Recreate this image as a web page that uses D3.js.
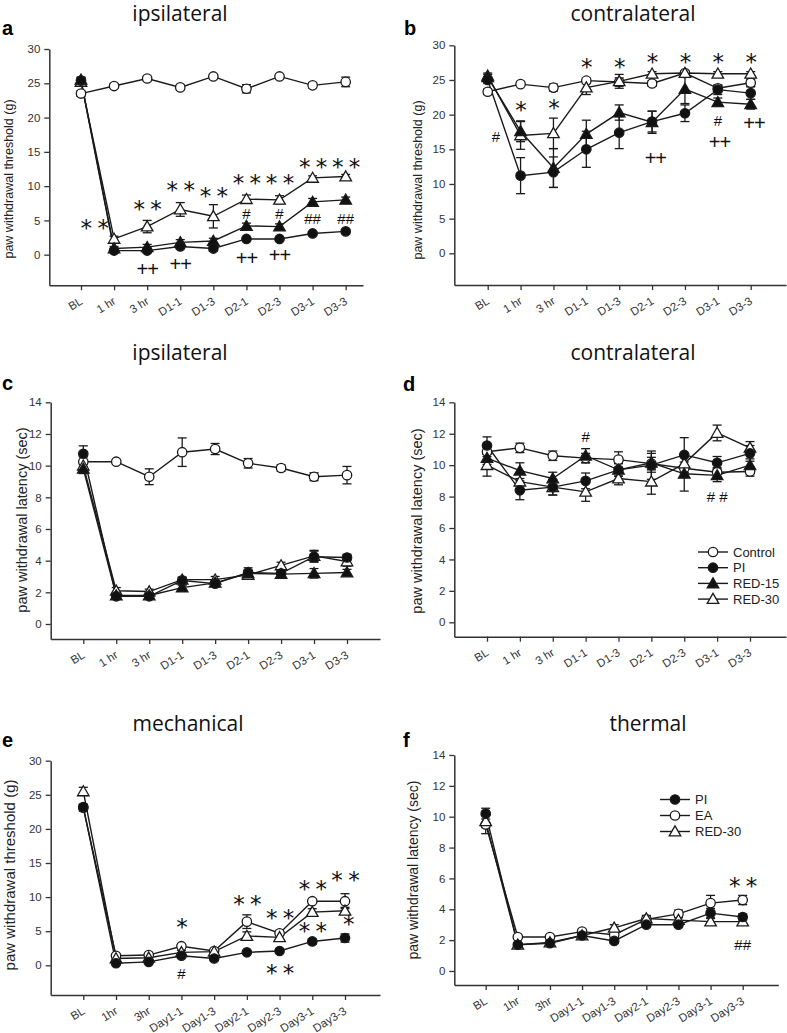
<!DOCTYPE html>
<html>
<head>
<meta charset="utf-8">
<script src="https://cdn.jsdelivr.net/npm/d3@7.9.0/dist/d3.min.js"></script>
<style>
  body { margin: 0; background: #fff; }
  svg { display: block; }
</style>
</head>
<body>
<svg id="fig" width="787" height="1033"></svg>
<script>
// category labels
const hrCats = ["BL", "1 hr", "3 hr", "D1-1", "D1-3", "D2-1", "D2-3", "D3-1", "D3-3"];
const dayCats = ["BL", "1hr", "3hr", "Day1-1", "Day1-3", "Day2-1", "Day2-3", "Day3-1", "Day3-3"];

// a - mechanical, ipsilateral (g)
const ctrlA = [23.5, 24.6, 25.7, 24.4, 26.0, 24.2, 26.0, 24.7, 25.2];
const ctrlAErr = [0.4, 0.3, 0.3, 0.3, 0.3, 0.6, 0.3, 0.4, 0.7];
const piA = [25.4, 0.6, 0.6, 1.2, 0.9, 2.3, 2.3, 3.1, 3.4];
const piAErr = [0.4, 0.2, 0.3, 0.3, 0.3, 0.2, 0.2, 0.2, 0.2];
const red15A = [25.5, 0.9, 1.1, 1.8, 2.0, 4.2, 4.1, 7.7, 8.0];
const red15AErr = [0.4, 0.3, 0.4, 0.4, 0.4, 0.4, 0.4, 0.5, 0.4];
const red30A = [25.2, 2.3, 4.1, 6.6, 5.6, 8.1, 8.0, 11.2, 11.4];
const red30AErr = [0.4, 0.4, 0.9, 1.0, 1.7, 0.6, 0.6, 0.3, 0.3];

// b - mechanical, contralateral (g)
const ctrlB = [23.3, 24.4, 23.9, 24.9, 24.7, 24.5, 26.0, 23.8, 24.6];
const ctrlBErr = [0.4, 0.3, 0.5, 0.4, 0.6, 0.4, 0.3, 0.4, 0.5];
const piB = [25.0, 11.2, 11.7, 15.0, 17.4, 19.0, 20.2, 23.6, 23.1];
const piBErr = [0.5, 2.6, 2.2, 2.6, 2.3, 1.5, 1.2, 0.7, 0.9];
const red15B = [25.4, 17.6, 12.3, 17.2, 20.3, 18.9, 23.7, 21.8, 21.5];
const red15BErr = [0.4, 1.5, 2.8, 2.0, 1.1, 1.6, 2.1, 0.6, 0.7];
const red30B = [25.6, 17.0, 17.3, 23.9, 24.8, 25.9, 26.0, 25.9, 25.9];
const red30BErr = [0.4, 2.0, 2.2, 1.0, 1.0, 0.3, 0.3, 0.3, 0.3];

// c - thermal, ipsilateral (sec)
const ctrlC = [10.25, 10.25, 9.3, 10.85, 11.05, 10.15, 9.85, 9.3, 9.4];
const ctrlCErr = [0.3, 0.1, 0.5, 0.9, 0.35, 0.3, 0.2, 0.25, 0.55];
const piC = [10.75, 1.75, 1.75, 2.75, 2.55, 3.25, 3.2, 4.25, 4.2];
const piCErr = [0.5, 0.2, 0.15, 0.2, 0.15, 0.3, 0.2, 0.35, 0.2];
const red15C = [9.8, 1.8, 1.8, 2.3, 2.6, 3.2, 3.15, 3.2, 3.25];
const red15CErr = [0.3, 0.2, 0.15, 0.15, 0.15, 0.2, 0.2, 0.3, 0.2];
const red30C = [10.0, 2.1, 2.05, 2.8, 2.8, 3.1, 3.7, 4.3, 3.95];
const red30CErr = [0.3, 0.2, 0.15, 0.15, 0.2, 0.2, 0.2, 0.35, 0.3];

// d - thermal, contralateral (sec)
const ctrlD = [10.85, 11.1, 10.6, 10.45, 10.35, 10.1, 9.8, 9.55, 9.6];
const ctrlDErr = [0.3, 0.3, 0.3, 0.3, 0.5, 0.4, 0.4, 0.3, 0.3];
const piD = [11.25, 8.4, 8.6, 9.0, 9.7, 10.0, 10.65, 10.15, 10.75];
const piDErr = [0.55, 0.6, 0.5, 0.5, 0.4, 0.9, 1.1, 0.4, 0.5];
const red15D = [10.45, 9.65, 9.15, 10.6, 9.7, 10.15, 9.45, 9.35, 10.0];
const red15DErr = [0.4, 0.5, 0.4, 0.45, 0.4, 0.6, 1.1, 0.4, 0.4];
const red30D = [10.0, 8.95, 8.6, 8.3, 9.15, 8.95, 10.1, 12.05, 11.1];
const red30DErr = [0.7, 0.5, 0.5, 0.6, 0.4, 0.8, 0.6, 0.5, 0.4];

// e - mechanical (g)
const eaE = [23.1, 1.4, 1.5, 2.8, 2.1, 6.4, 4.7, 9.4, 9.4];
const eaEErr = [0.5, 0.2, 0.2, 0.3, 0.2, 1.0, 0.3, 0.3, 1.1];
const piE = [23.2, 0.3, 0.5, 1.4, 1.0, 1.9, 2.1, 3.5, 4.0];
const piEErr = [0.4, 0.2, 0.2, 0.2, 0.2, 0.2, 0.2, 0.4, 0.6];
const red30E = [25.5, 1.0, 1.1, 1.9, 2.0, 4.3, 4.1, 7.8, 8.0];
const red30EErr = [0.6, 0.2, 0.2, 0.3, 0.3, 0.6, 0.3, 0.5, 0.5];

// f - thermal (sec)
const piF = [10.2, 1.7, 1.8, 2.3, 1.95, 3.0, 3.0, 3.75, 3.5];
const piFErr = [0.35, 0.1, 0.1, 0.15, 0.15, 0.15, 0.15, 0.3, 0.2];
const eaF = [9.5, 2.2, 2.2, 2.55, 2.35, 3.35, 3.7, 4.4, 4.6];
const eaFErr = [0.6, 0.1, 0.1, 0.15, 0.2, 0.2, 0.25, 0.5, 0.3];
const red30F = [9.7, 1.7, 1.85, 2.3, 2.8, 3.4, 3.3, 3.2, 3.2];
const red30FErr = [0.4, 0.1, 0.1, 0.15, 0.2, 0.2, 0.2, 0.2, 0.15];

// significance marks: [text, category index, value]
const notesA = [["* *", 0.4, 4.6], ["* *", 2, 7.4], ["* *", 3, 10.2], ["* *", 4, 9.2],
  ["* *", 5, 11.2], ["* *", 6, 11.1], ["* *", 7, 13.5], ["* *", 8, 13.5],
  ["#", 5, 6.0], ["#", 6, 6.0], ["##", 7, 5.2], ["##", 8, 5.2],
  ["++", 2, -2.0], ["++", 3, -1.3], ["++", 5, -0.5], ["++", 6, -0.1]];
const notesB = [["*", 1, 21.4], ["*", 2, 21.6], ["*", 3, 27.6], ["*", 4, 27.6],
  ["*", 5, 28.3], ["*", 6, 28.3], ["*", 7, 28.3], ["*", 8, 28.3],
  ["#", 0.25, 16.8], ["#", 7, 19.1], ["++", 5.1, 13.8], ["++", 7.05, 16.1], ["++", 8.1, 18.8]];
const notesC = [];
const notesD = [["#", 3, 11.8], ["# #", 7, 8.0]];
const notesE = [["*", 3, 6.4], ["* *", 5, 9.7], ["* *", 6, 7.6], ["* *", 7, 11.9],
  ["* *", 8, 13.2], ["* *", 7, 5.7], ["*", 8.1, 6.7], ["* *", 6, -0.45], ["#", 3, -1.2]];
const notesF = [["* *", 8, 5.8], ["##", 8, 1.7]];

const openCircle = { shape: "circle", fill: "#fff" };
const filledCircle = { shape: "circle", fill: "#111" };
const filledTri = { shape: "triangle", fill: "#111" };
const openTri = { shape: "triangle", fill: "#fff" };

const panels = [
  { letter: "a", title: "ipsilateral", ylabel: "paw withdrawal threshold (g)", cats: hrCats,
    ymax: 30, ystep: 5, box: { left: 49.3, x0: 81, x8: 345.7, right: 363, top: 49, y0: 254.7, bottom: 285.3 },
    titleX: 180, titleY: 21, letterX: 2, letterY: 35, labelX: 13, labelY: 179, labelSize: 12.5,
    series: [
      { name: "Control", vals: ctrlA, errs: ctrlAErr, ...openCircle },
      { name: "RED-30", vals: red30A, errs: red30AErr, ...openTri },
      { name: "RED-15", vals: red15A, errs: red15AErr, ...filledTri },
      { name: "PI", vals: piA, errs: piAErr, ...filledCircle }],
    notes: notesA },
  { letter: "b", title: "contralateral", ylabel: "paw withdrawal threshold (g)", cats: hrCats,
    ymax: 30, ystep: 5, box: { left: 454.3, x0: 487.7, x8: 750.7, right: 786, top: 45.3, y0: 253.3, bottom: 285 },
    titleX: 633, titleY: 21, letterX: 404, letterY: 35, labelX: 421.5, labelY: 180, labelSize: 12.5,
    series: [
      { name: "Control", vals: ctrlB, errs: ctrlBErr, ...openCircle },
      { name: "RED-30", vals: red30B, errs: red30BErr, ...openTri },
      { name: "RED-15", vals: red15B, errs: red15BErr, ...filledTri },
      { name: "PI", vals: piB, errs: piBErr, ...filledCircle }],
    notes: notesB },
  { letter: "c", title: "ipsilateral", ylabel: "paw withdrawal latency (sec)", cats: hrCats,
    ymax: 14, ystep: 2, box: { left: 50.7, x0: 83.3, x8: 347, right: 380, top: 402.3, y0: 624, bottom: 639 },
    titleX: 180, titleY: 360, letterX: 2, letterY: 390, labelX: 26.5, labelY: 520, labelSize: 14.5,
    series: [
      { name: "Control", vals: ctrlC, errs: ctrlCErr, ...openCircle },
      { name: "RED-30", vals: red30C, errs: red30CErr, ...openTri },
      { name: "RED-15", vals: red15C, errs: red15CErr, ...filledTri },
      { name: "PI", vals: piC, errs: piCErr, ...filledCircle }],
    notes: notesC },
  { letter: "d", title: "contralateral", ylabel: "paw withdrawal latency (sec)", cats: hrCats,
    ymax: 14, ystep: 2, box: { left: 454.3, x0: 487, x8: 750, right: 786, top: 402.3, y0: 622.3, bottom: 636.7 },
    titleX: 633, titleY: 360, letterX: 403, letterY: 391, labelX: 421.5, labelY: 521, labelSize: 14.5,
    series: [
      { name: "Control", vals: ctrlD, errs: ctrlDErr, ...openCircle },
      { name: "RED-30", vals: red30D, errs: red30DErr, ...openTri },
      { name: "RED-15", vals: red15D, errs: red15DErr, ...filledTri },
      { name: "PI", vals: piD, errs: piDErr, ...filledCircle }],
    notes: notesD,
    legend: { x: 713, y: 552, gap: 15.7, order: ["Control", "PI", "RED-15", "RED-30"] } },
  { letter: "e", title: "mechanical", ylabel: "paw withdrawal threshold (g)", cats: dayCats,
    ymax: 30, ystep: 5, box: { left: 50.7, x0: 83.3, x8: 345, right: 380, top: 760.7, y0: 965.3, bottom: 995 },
    titleX: 188, titleY: 731, letterX: 2, letterY: 747, labelX: 15, labelY: 875, labelSize: 15,
    series: [
      { name: "EA", vals: eaE, errs: eaEErr, ...openCircle },
      { name: "RED-30", vals: red30E, errs: red30EErr, ...openTri },
      { name: "PI", vals: piE, errs: piEErr, ...filledCircle }],
    notes: notesE },
  { letter: "f", title: "thermal", ylabel: "paw withdrawal latency (sec)", cats: dayCats,
    ymax: 14, ystep: 2, box: { left: 454.3, x0: 485.7, x8: 742.7, right: 778.3, top: 755, y0: 971, bottom: 985 },
    titleX: 648, titleY: 731, letterX: 403, letterY: 747, labelX: 418, labelY: 870, labelSize: 14,
    series: [
      { name: "EA", vals: eaF, errs: eaFErr, ...openCircle },
      { name: "RED-30", vals: red30F, errs: red30FErr, ...openTri },
      { name: "PI", vals: piF, errs: piFErr, ...filledCircle }],
    notes: notesF,
    legend: { x: 675, y: 799.5, gap: 16, order: ["PI", "EA", "RED-30"] } }
];

const ink = "#1a1a1a";
const sans = "'Liberation Sans', Arial, sans-serif";
const triangle = d3.symbol().type(d3.symbolTriangle).size(58);

// glyph sizes for the significance marks, dy = centre of glyph above baseline (em)
const markFont = {
  "*": { size: 23, family: "'DejaVu Sans', sans-serif", dy: 0.56, ls: -1 },
  "#": { size: 15, family: sans, dy: 0.36, ls: 0 },
  "+": { size: 20, family: sans, dy: 0.355, ls: -1 }
};

const svg = d3.select("#fig");
svg.append("rect").attr("width", 787).attr("height", 1033).attr("fill", "#fff");

function drawMarker(g, s, cx, cy) {
  if (s.shape === "circle") {
    g.append("circle").attr("cx", cx).attr("cy", cy).attr("r", 4.7)
      .attr("fill", s.fill).attr("stroke", ink).attr("stroke-width", 1.3);
  } else {
    g.append("path").attr("d", triangle).attr("transform", `translate(${cx},${cy + 1})`)
      .attr("fill", s.fill).attr("stroke", ink).attr("stroke-width", 1.3);
  }
}

panels.forEach(p => {
  const b = p.box;
  const g = svg.append("g");

  const x = d3.scaleLinear().domain([0, 8]).range([b.x0, b.x8]);
  const y = d3.scaleLinear().domain([0, p.ymax]).range([b.y0, b.top]);
  const xAxisScale = x.copy().domain([x.invert(b.left), x.invert(b.right)]).range([b.left, b.right]);
  const yAxisScale = y.copy().domain([y.invert(b.bottom), p.ymax]).range([b.bottom, b.top]);

  // axes
  const yAx = g.append("g").attr("transform", `translate(${b.left},0)`)
    .call(d3.axisLeft(yAxisScale).tickValues(d3.range(0, p.ymax + 0.01, p.ystep))
      .tickSize(5).tickSizeOuter(0).tickPadding(4));
  const xAx = g.append("g").attr("transform", `translate(0,${b.bottom})`)
    .call(d3.axisBottom(xAxisScale).tickValues(d3.range(9)).tickFormat(i => p.cats[i])
      .tickSize(5).tickSizeOuter(0));
  xAx.selectAll(".tick text").attr("y", 0).attr("dy", 0).attr("text-anchor", "end")
    .attr("transform", "translate(2,18) rotate(-32)");
  [yAx, xAx].forEach(a => {
    a.select(".domain").attr("stroke", "#333").attr("stroke-width", 1.5);
    a.selectAll(".tick line").attr("stroke", "#333").attr("stroke-width", 1.3);
    a.selectAll(".tick text").attr("fill", "#333").attr("font-size", 11.5).attr("font-family", sans);
  });

  // texts
  g.append("text").attr("x", p.titleX).attr("y", p.titleY).attr("text-anchor", "middle")
    .attr("font-family", "'Open Sans', sans-serif").attr("font-size", 21)
    .attr("fill", "#111").text(p.title);
  g.append("text").attr("x", p.letterX).attr("y", p.letterY).attr("font-family", sans)
    .attr("font-weight", "bold").attr("font-size", 20).attr("fill", "#000").text(p.letter);
  g.append("text").attr("transform", `translate(${p.labelX},${p.labelY}) rotate(-90)`)
    .attr("text-anchor", "middle").attr("font-family", sans).attr("font-size", p.labelSize)
    .attr("fill", "#222").text(p.ylabel);

  // lines
  const line = d3.line().x((d, i) => x(i)).y(d => y(d));
  p.series.forEach(s => {
    g.append("path").attr("d", line(s.vals)).attr("fill", "none")
      .attr("stroke", ink).attr("stroke-width", 1.4);
  });
  // error bars
  p.series.forEach(s => {
    s.vals.forEach((v, i) => {
      const e = s.errs[i];
      const cx = x(i), yt = y(v + e), yb = y(v - e);
      g.append("line").attr("x1", cx).attr("x2", cx).attr("y1", yt).attr("y2", yb)
        .attr("stroke", ink).attr("stroke-width", 1.3);
      [yt, yb].forEach(yy => g.append("line").attr("x1", cx - 4.5).attr("x2", cx + 4.5)
        .attr("y1", yy).attr("y2", yy).attr("stroke", ink).attr("stroke-width", 1.3));
    });
  });
  // markers
  p.series.forEach(s => s.vals.forEach((v, i) => drawMarker(g, s, x(i), y(v))));

  // significance marks
  p.notes.forEach(([t, i, v]) => {
    const f = markFont[t[0]];
    g.append("text").attr("x", x(i)).attr("y", y(v) + f.dy * f.size)
      .attr("text-anchor", "middle").attr("font-family", f.family).attr("font-size", f.size)
      .attr("letter-spacing", f.ls).attr("fill", "#111").text(t);
  });

  // legend
  if (p.legend) {
    const L = p.legend;
    L.order.forEach((name, k) => {
      const s = p.series.find(d => d.name === name);
      const ly = L.y + k * L.gap;
      g.append("line").attr("x1", L.x - 15).attr("x2", L.x + 15).attr("y1", ly).attr("y2", ly)
        .attr("stroke", ink).attr("stroke-width", 1.4);
      drawMarker(g, s, L.x, ly);
      g.append("text").attr("x", L.x + 20).attr("y", ly + 4.5).attr("font-family", sans)
        .attr("font-size", 13).attr("fill", "#222").text(name);
    });
  }
});
</script>
</body>
</html>
